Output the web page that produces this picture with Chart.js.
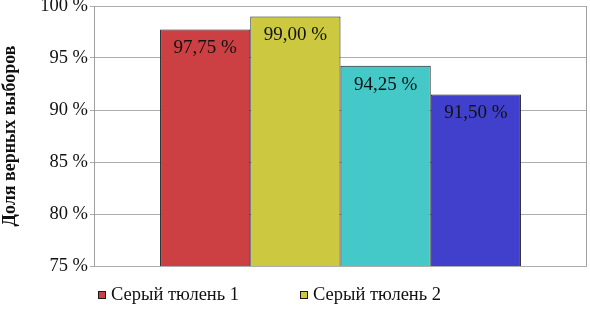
<!DOCTYPE html>
<html>
<head>
<meta charset="utf-8">
<script src="https://cdn.jsdelivr.net/npm/chart.js@4/dist/chart.umd.min.js"></script>
<style>
  html, body { margin: 0; padding: 0; background: #fff; }
  #wrap { width: 590px; height: 313px; position: relative; }
</style>
</head>
<body>
<div id="wrap"><canvas id="c" width="590" height="313"></canvas></div>
<script>
const categories = [''];
const seriesNames = ['Серый тюлень 1', 'Серый тюлень 2', 'Серый тюлень 3', 'Серый тюлень 4'];
const seriesValues = [97.75, 99.00, 94.25, 91.50];
const seriesColors = ['rgb(204,64,68)', 'rgb(204,200,64)', 'rgb(68,200,200)', 'rgb(64,64,204)'];
const yTicks = [75, 80, 85, 90, 95, 100];
const axisTitle = 'Доля верных выборов';
const visibleLegendItems = 2;

const FONT = "'Liberation Serif', 'Times New Roman', serif";

function fmt(v) { return v.toFixed(2).replace('.', ',') + ' %'; }

const datasets = seriesNames.map((name, i) => ({
  label: name,
  data: [seriesValues[i]],
  backgroundColor: seriesColors[i],
  borderColor: '#1a1a1a',
  borderWidth: 1,
  borderSkipped: false,
  barPercentage: 1,
  categoryPercentage: 0.732
}));

const decor = {
  id: 'decor',
  afterDatasetsDraw(chart) {
    const ctx = chart.ctx;
    const a = chart.chartArea;
    ctx.save();
    // right border of plot area
    ctx.strokeStyle = '#a0a0a0';
    ctx.lineWidth = 1;
    ctx.beginPath();
    ctx.moveTo(Math.round(a.right) - 0.5, a.top);
    ctx.lineTo(Math.round(a.right) - 0.5, a.bottom);
    ctx.stroke();
    // value labels
    ctx.font = "19px " + FONT;
    ctx.fillStyle = '#111';
    ctx.textAlign = 'center';
    ctx.textBaseline = 'middle';
    chart.data.datasets.forEach((ds, i) => {
      const meta = chart.getDatasetMeta(i);
      meta.data.forEach((bar, j) => {
        ctx.fillText(fmt(ds.data[j]), bar.x, bar.y + 19);
      });
    });
    // legend (only the first items are visible in the cropped original)
    const xs = [98, 300];
    ctx.font = "18.5px " + FONT;
    ctx.textAlign = 'left';
    ctx.textBaseline = 'alphabetic';
    for (let i = 0; i < visibleLegendItems; i++) {
      const ds = chart.data.datasets[i];
      ctx.fillStyle = ds.backgroundColor;
      ctx.fillRect(xs[i], 291, 8, 8);
      ctx.strokeStyle = '#1a1a1a';
      ctx.strokeRect(xs[i] + 0.5, 291.5, 7, 7);
      ctx.fillStyle = '#111';
      ctx.fillText(ds.label, xs[i] + 13, 300);
    }
    ctx.restore();
  }
};

new Chart(document.getElementById('c'), {
  type: 'bar',
  data: { labels: categories, datasets },
  plugins: [decor],
  options: {
    responsive: false,
    animation: false,
    layout: { padding: { top: 6, right: 3, bottom: 47, left: 0 } },
    plugins: {
      legend: { display: false },
      tooltip: { enabled: false }
    },
    scales: {
      x: { display: false },
      y: {
        min: yTicks[0],
        max: yTicks[yTicks.length - 1],
        afterBuildTicks(scale) { scale.ticks = yTicks.map(v => ({ value: v })); },
        afterFit(scale) {
          scale.width = 94;
          scale.paddingTop = 0;
          scale.paddingBottom = 0;
        },
        ticks: {
          padding: 2,
          color: '#111',
          font: { family: FONT, size: 18.5 },
          callback: v => v + ' %'
        },
        grid: { color: '#adadad', tickLength: 4, lineWidth: 1 },
        border: { color: '#a0a0a0' },
        title: {
          display: true,
          text: axisTitle,
          color: '#111',
          padding: { top: 0, bottom: 0 },
          font: { family: FONT, size: 18, weight: 'bold' }
        }
      }
    }
  }
});
</script>
</body>
</html>
